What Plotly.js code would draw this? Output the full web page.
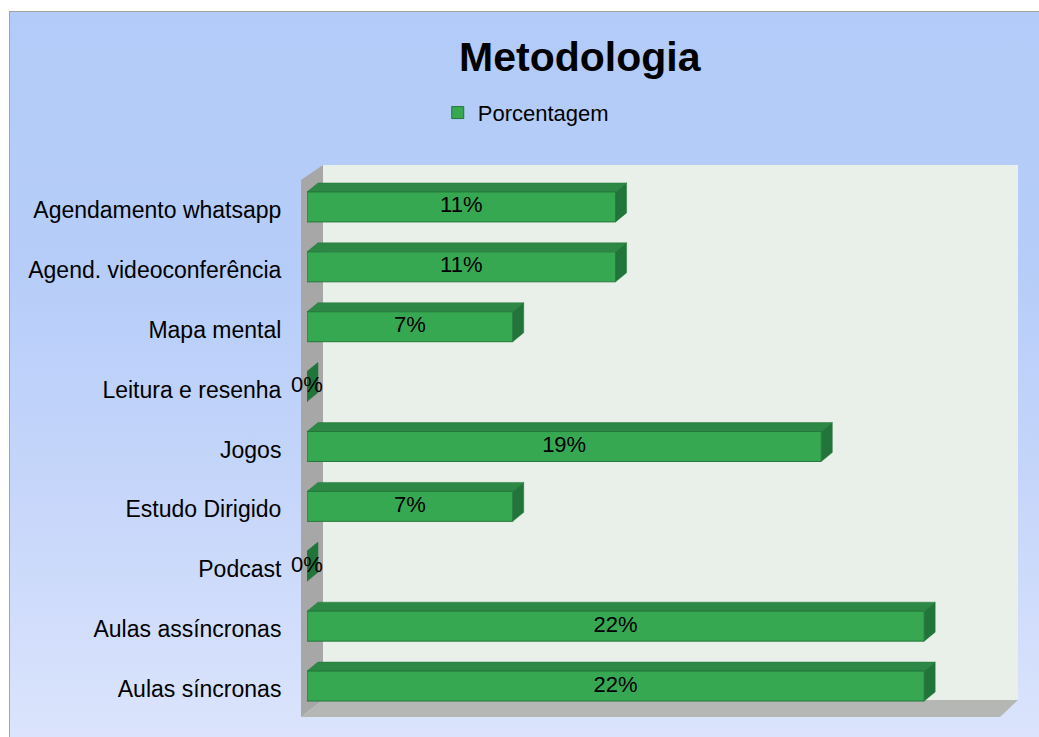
<!DOCTYPE html>
<html>
<head>
<meta charset="utf-8">
<script src="https://cdn.plot.ly/plotly-3.0.1.min.js"></script>
<style>
  html, body { margin: 0; padding: 0; background: #ffffff; }
  #wrap { position: relative; width: 1039px; height: 737px; overflow: hidden; }
  #bg { position: absolute; left: 9px; top: 11px; right: 0; bottom: 0;
        border-left: 1px solid #a3a3a3; border-top: 1px solid #a3a3a3;
        background: linear-gradient(to bottom, #b3cbf8 0%, #b6cdf9 35%, #c8d7fa 70%, #dbe4fc 100%); }
  #chart { position: absolute; left: 0; top: 0; width: 1039px; height: 737px; }
</style>
</head>
<body>
<div id="wrap"><div id="bg"></div><div id="chart"></div></div>
<script>
// ---- data ----
const categories = ['Aulas síncronas', 'Aulas assíncronas', 'Podcast', 'Estudo Dirigido', 'Jogos',
                    'Leitura e resenha', 'Mapa mental', 'Agend. videoconferência', 'Agendamento whatsapp'];
const values = [22.2, 22.2, 0, 7.4, 18.5, 0, 7.4, 11.1, 11.1];
const seriesName = 'Porcentagem';
const chartTitle = 'Metodologia';

// ---- layout constants ----
const W = 1039, H = 737;
const M = { l: 307, r: 37, t: 177, b: 21 };
const XMAX = 25;
const BAR_W = 0.5;
const DX = 11, DY = 9;   // bar depth in pixels
const FONT = 'Liberation Sans, Arial, sans-serif';
const C_FRONT = '#36a852', C_TOP = '#2c8844', C_SIDE = '#21753a', C_EDGE = '#24773b';

const positions = categories.map((c, i) => i);
const labels = values.map(v => Math.round(v) + '%');
const pxPerUnit = (W - M.l - M.r) / XMAX;
const pitch = (H - M.t - M.b) / categories.length;
const hh = BAR_W * pitch / 2;
const dxd = DX / pxPerUnit;

const shapes = [];
// walls (pixel offsets from the plot's bottom-left corner)
const wall = (path, color) => ({ type: 'path', xref: 'paper', yref: 'paper', xsizemode: 'pixel', ysizemode: 'pixel',
  xanchor: 0, yanchor: 0, path: path, fillcolor: color, line: { width: 0 }, layer: 'below' });
shapes.push(wall('M16,16 L711,16 L711,551 L16,551 Z', '#e9f0e9'));
shapes.push(wall('M-6,-1 L-6,536 L16,551 L16,16 Z', '#a7a7a7'));
shapes.push(wall('M-6,-1 L693,-1 L711,16 L16,16 Z', '#b4b7b4'));

// 3D bar faces
values.forEach((v, i) => {
  shapes.push({ type: 'path', xref: 'x', yref: 'y', ysizemode: 'pixel', yanchor: positions[i], layer: 'below',
    path: `M0,${hh} L${v},${hh} L${v + dxd},${hh + DY} L${dxd},${hh + DY} Z`,
    fillcolor: C_TOP, line: { color: C_EDGE, width: 0.5 } });
  shapes.push({ type: 'path', xref: 'x', yref: 'y', ysizemode: 'pixel', yanchor: positions[i], layer: 'below',
    path: `M${v},${-hh} L${v + dxd},${-hh + DY} L${v + dxd},${hh + DY} L${v},${hh} Z`,
    fillcolor: C_SIDE, line: { color: C_EDGE, width: 0.5 } });
});

const traces = [
  { type: 'bar', orientation: 'h', name: seriesName, x: values, y: positions, width: BAR_W,
    marker: { color: C_FRONT, line: { color: C_EDGE, width: 1 } }, hoverinfo: 'x+y' },
  { type: 'scatter', mode: 'text', x: values.map(v => v / 2), y: positions, text: labels,
    textposition: 'middle center', textfont: { family: FONT, size: 22, color: '#000000' },
    showlegend: false, hoverinfo: 'skip', cliponaxis: false }
];

const layout = {
  width: W, height: H, margin: M,
  paper_bgcolor: 'rgba(0,0,0,0)', plot_bgcolor: 'rgba(0,0,0,0)',
  font: { family: FONT, size: 22, color: '#000000' },
  title: { text: '<b>' + chartTitle + '</b>', font: { family: FONT, size: 41, color: '#000000' },
           xref: 'container', yref: 'container', x: 0.558, xanchor: 'center', y: 0.923, yanchor: 'middle' },
  showlegend: true,
  legend: { orientation: 'h', xref: 'container', yref: 'container', x: 0.506, xanchor: 'center',
            y: 0.847, yanchor: 'middle', font: { family: FONT, size: 22, color: '#000000' },
            bgcolor: 'rgba(0,0,0,0)' },
  xaxis: { range: [0, XMAX], showgrid: false, zeroline: false, showticklabels: false, showline: false, fixedrange: true },
  yaxis: { range: [-0.5, categories.length - 0.5], tickmode: 'array', tickvals: positions, ticktext: categories,
           showgrid: false, zeroline: false, showline: false, ticks: 'outside', ticklen: 20,
           ticklabelshift: 3,
           tickcolor: 'rgba(0,0,0,0)', tickfont: { family: FONT, size: 23, color: '#000000' }, fixedrange: true },
  shapes: shapes,
  bargap: 0.5
};

Plotly.newPlot('chart', traces, layout, { displayModeBar: false, staticPlot: true });
</script>
</body>
</html>
